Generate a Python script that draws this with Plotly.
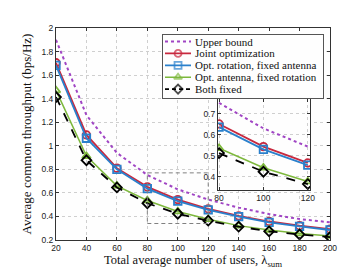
import plotly.graph_objects as go

# ---------------- data ----------------
users = [20, 40, 60, 80, 100, 120, 140, 160, 180, 200]
upper_bound = [1.90, 1.26, 0.94, 0.752, 0.63, 0.543, 0.475, 0.42, 0.378, 0.35]
joint_opt = [1.705, 1.092, 0.81, 0.651, 0.543, 0.465, 0.405, 0.357, 0.322, 0.293]
opt_rotation = [1.683, 1.064, 0.80, 0.636, 0.53, 0.455, 0.398, 0.349, 0.315, 0.285]
opt_antenna = [1.47, 0.912, 0.66, 0.535, 0.442, 0.376, 0.322, 0.285, 0.255, 0.235]
both_fixed = [1.414, 0.877, 0.646, 0.512, 0.423, 0.364, 0.313, 0.274, 0.247, 0.225]

series_names = ["Upper bound", "Joint optimization", "Opt. rotation, fixed antenna",
                "Opt. antenna, fixed rotation", "Both fixed"]
series_values = [upper_bound, joint_opt, opt_rotation, opt_antenna, both_fixed]

x_ticks = [20, 40, 60, 80, 100, 120, 140, 160, 180, 200]
y_ticks = [0.2, 0.4, 0.6, 0.8, 1.0, 1.2, 1.4, 1.6, 1.8, 2.0]
inset_x_ticks = [80, 100, 120]
inset_y_ticks = [0.4, 0.5, 0.6, 0.7]
zoom_x = [80, 120]
zoom_y = [0.34, 0.77]

# ---------------- styles ----------------
colors = ["#A045C4", "#C8283E", "#2A80CC", "#7DB83C", "#000000"]
symbols = [None, "circle-open", "square-open", "triangle-up-open", "diamond-open"]
dashes = ["dot", "solid", "solid", "solid", "dash"]
widths = [2, 1.8, 1.8, 1.5, 1.8]

SERIF = "Liberation Serif, Times New Roman, serif"
SANS = "Liberation Sans, Arial, sans-serif"

fig = go.Figure()

def add_series(xa, ya, xs_sel=None):
    for name, vals, c, s, d, w in zip(series_names, series_values, colors, symbols, dashes, widths):
        xs, ys = users, vals
        if xs_sel is not None:
            pairs = [(a, b) for a, b in zip(users, vals) if xs_sel[0] <= a <= xs_sel[1]]
            xs = [p[0] for p in pairs]
            ys = [p[1] for p in pairs]
        mode = "lines" if s is None else "lines+markers"
        fig.add_trace(go.Scatter(
            x=xs, y=ys, mode=mode, name=name, showlegend=False,
            line=dict(color=c, width=w, dash=d),
            marker=dict(symbol=s or "circle", size=7.5, color=c,
                        line=dict(color=c, width=1.8)),
            xaxis=xa, yaxis=ya))

add_series("x", "y")
add_series("x2", "y2", zoom_x)

# ---------- custom compact legend (subplot x3/y3) ----------
SW_X0, SW_XM, SW_X1, TXT_X = 0.0125, 0.094, 0.175, 0.19
for i, (name, c, s, d, w) in enumerate(zip(series_names, colors, symbols, dashes, widths)):
    fig.add_trace(go.Scatter(
        x=[SW_X0, SW_XM, SW_X1], y=[i, i, i],
        mode="lines" if s is None else "lines+markers",
        showlegend=False, hoverinfo="skip",
        line=dict(color=c, width=w, dash=d if d != "dash" else "4px,3px"),
        marker=dict(symbol=s or "circle", size=[0, 7, 0], color=c,
                    line=dict(color=c, width=1.8)),
        xaxis="x3", yaxis="y3"))
    fig.add_annotation(x=TXT_X, y=i, xref="x3", yref="y3", text=name,
                       showarrow=False, xanchor="left", yanchor="middle",
                       font=dict(family=SERIF, size=11, color="#111"))

# zoom box
fig.add_shape(type="rect", x0=zoom_x[0], x1=zoom_x[1], y0=zoom_y[0], y1=zoom_y[1],
              xref="x", yref="y", line=dict(color="#808080", width=1, dash="4px,3px"),
              layer="above")

grid = dict(showgrid=True, gridcolor="#CFCFCF", griddash="dot", gridwidth=1,
            zeroline=False, showline=True, linecolor="#333", linewidth=1,
            mirror="allticks", ticks="inside", ticklen=3, tickcolor="#333")

fig.update_layout(
    width=357, height=268,
    margin=dict(l=48, r=35, t=20, b=30),
    paper_bgcolor="white", plot_bgcolor="#FEFEFE",
    showlegend=False,
    xaxis=dict(range=[20, 200], tickvals=x_ticks, domain=[0, 1],
               tickfont=dict(family=SANS, size=8.5, color="#222"),
               title=dict(text="Total average number of users, λ<sub>sum</sub>",
                          font=dict(family=SERIF, size=12.5, color="#111"), standoff=2),
               **grid),
    yaxis=dict(range=[0.2, 2.0], tickvals=y_ticks, domain=[0, 1],
               ticktext=[("%g" % v) for v in y_ticks],
               tickfont=dict(family=SANS, size=8.5, color="#222"),
               title=dict(text="Average common throughput (bps/Hz)",
                          font=dict(family=SERIF, size=13, color="#111"), standoff=6),
               **grid),
    xaxis2=dict(range=[79.5, 121], tickvals=inset_x_ticks, domain=[0.591, 0.927],
                anchor="y2", tickfont=dict(family=SANS, size=8.5, color="#222"), **grid),
    yaxis2=dict(range=[0.335, 0.77], tickvals=inset_y_ticks, domain=[0.235, 0.665],
                anchor="x2", tickfont=dict(family=SANS, size=8.5, color="#222"), **grid),
    xaxis3=dict(range=[0, 1], domain=[0.3905, 0.9745], anchor="y3",
                showgrid=False, zeroline=False, showticklabels=False, ticks="",
                showline=True, mirror=True, linecolor="#555", linewidth=1),
    yaxis3=dict(range=[4.754, -0.574], domain=[0.6697, 0.968], anchor="x3",
                showgrid=False, zeroline=False, showticklabels=False, ticks="",
                showline=True, mirror=True, linecolor="#555", linewidth=1),
)

fig.write_html("out.html")
